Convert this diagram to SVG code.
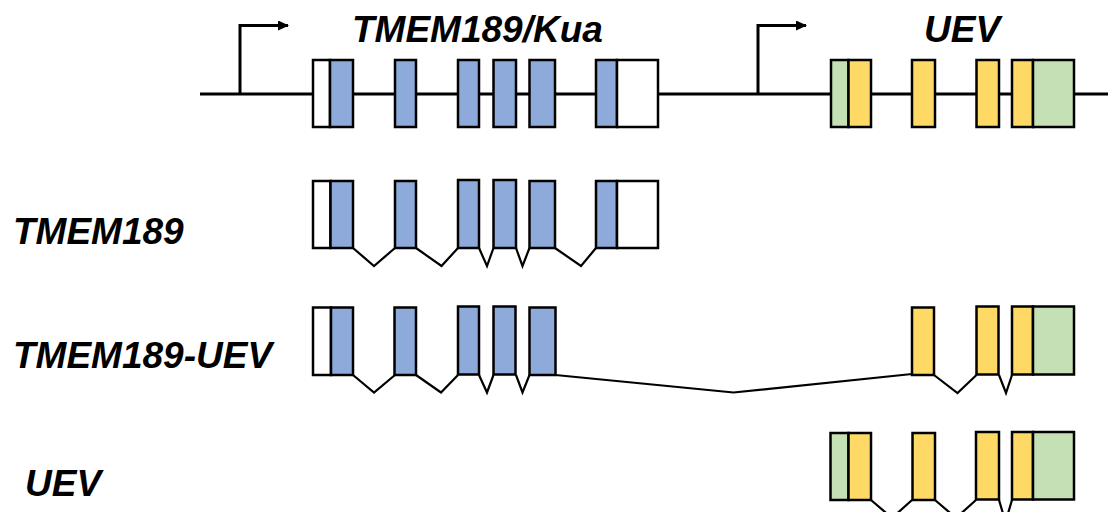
<svg xmlns="http://www.w3.org/2000/svg" width="1108" height="512" viewBox="0 0 1108 512">
  <style>
    .ex { stroke: #000; stroke-width: 2.5; }
    .utr { fill: #ffffff; }
    .cds { fill: #8eaadb; }
    .uev { fill: #ffd966; }
    .uutr { fill: #c5e0b4; }
    .intron { fill: none; stroke: #000; stroke-width: 2.2; stroke-linejoin: miter; }
    .genome { stroke: #000; stroke-width: 3; }
    .tss { fill: none; stroke: #000; stroke-width: 3; }
    .lbl { font-family: "Liberation Sans", Arial, sans-serif; font-weight: bold; font-style: italic; font-size: 37px; fill: #000; }
  </style>
  <defs>
    <marker id="tssHead" markerWidth="12" markerHeight="12" refX="10" refY="5" orient="auto" markerUnits="userSpaceOnUse">
      <path d="M0,0 L11,5 L0,10 Z" fill="#000"/>
    </marker>
  </defs>
  <rect width="1108" height="512" fill="#ffffff"/>

  <!-- genomic locus -->
  <g id="locus">
    <line class="genome" x1="200" y1="94" x2="1108" y2="94"/>
    <path class="tss" d="M240,94 V25.5 H288" marker-end="url(#tssHead)"/>
    <path class="tss" d="M758,94 V25.5 H806" marker-end="url(#tssHead)"/>
    <text class="lbl" x="352" y="42">TMEM189/Kua</text>
    <text class="lbl" x="924" y="42">UEV</text>
    <g id="locus-tmem189">
      <rect class="ex utr" x="313" y="60" width="17" height="67"/>
      <rect class="ex cds" x="330" y="60" width="23" height="67"/>
      <rect class="ex cds" x="395" y="60" width="21" height="67"/>
      <rect class="ex cds" x="458" y="60" width="21" height="67"/>
      <rect class="ex cds" x="493.5" y="60" width="22.5" height="67"/>
      <rect class="ex cds" x="529.5" y="60" width="25.5" height="67"/>
      <rect class="ex cds" x="596" y="60" width="21" height="67"/>
      <rect class="ex utr" x="617" y="60" width="41" height="67"/>
    </g>
    <g id="locus-uev">
      <rect class="ex uutr" x="831" y="60" width="17.5" height="67"/>
      <rect class="ex uev" x="848.5" y="60" width="22.5" height="67"/>
      <rect class="ex uev" x="912" y="60" width="23" height="67"/>
      <rect class="ex uev" x="976.5" y="60" width="22.5" height="67"/>
      <rect class="ex uev" x="1012" y="60" width="21" height="67"/>
      <rect class="ex uutr" x="1033" y="60" width="41" height="67"/>
    </g>
  </g>

  <!-- splice connectors -->
  <g id="connectors">
    <polyline class="intron" points="353,248 374,266 395,248"/>
    <polyline class="intron" points="416,248 441.5,266 458,248"/>
    <polyline class="intron" points="479,248 487,266 493.5,248"/>
    <polyline class="intron" points="516,248 522.5,266 529.5,248"/>
    <polyline class="intron" points="555,248 581,266 596,248"/>

    <polyline class="intron" points="353,375 374,392.5 395,375"/>
    <polyline class="intron" points="416,375 441,392.5 458,375"/>
    <polyline class="intron" points="479,375 487,392.5 493.5,375"/>
    <polyline class="intron" points="516,375 522.5,392.5 529.5,375"/>
    <polyline class="intron" points="555.5,375 733.5,392.5 912,374"/>
    <polyline class="intron" points="934,375 957.5,393 976.5,375"/>
    <polyline class="intron" points="999,375 1006,393 1012,375"/>

    <polyline class="intron" points="871,500 892,518 912,500"/>
    <polyline class="intron" points="935,500 956,518 976,500"/>
    <polyline class="intron" points="999,500 1005.5,522 1012,500"/>
  </g>

  <!-- transcript TMEM189 -->
  <g id="tx-tmem189">
    <text class="lbl" x="13" y="244">TMEM189</text>
    <rect class="ex utr" x="313" y="181" width="17.5" height="67"/>
    <rect class="ex cds" x="330.5" y="181" width="22.5" height="67"/>
    <rect class="ex cds" x="395" y="181" width="21" height="67"/>
    <rect class="ex cds" x="458" y="180" width="21" height="68"/>
    <rect class="ex cds" x="493.5" y="180" width="22.5" height="68"/>
    <rect class="ex cds" x="529.5" y="181" width="25.5" height="67"/>
    <rect class="ex cds" x="596" y="181" width="21" height="67"/>
    <rect class="ex utr" x="617" y="181" width="41" height="67"/>
  </g>

  <!-- transcript TMEM189-UEV -->
  <g id="tx-tmem189-uev">
    <text class="lbl" x="13" y="368">TMEM189-UEV</text>
    <rect class="ex utr" x="313" y="307.5" width="18" height="67.5"/>
    <rect class="ex cds" x="331" y="307.5" width="22" height="67.5"/>
    <rect class="ex cds" x="394.5" y="307.5" width="21.5" height="67.5"/>
    <rect class="ex cds" x="458" y="306.5" width="21" height="68"/>
    <rect class="ex cds" x="493.5" y="306.5" width="22" height="68"/>
    <rect class="ex cds" x="529.5" y="307.5" width="26" height="67.5"/>
    <rect class="ex uev" x="912" y="307.5" width="22" height="67.5"/>
    <rect class="ex uev" x="976.5" y="306.5" width="22" height="68"/>
    <rect class="ex uev" x="1012" y="306.5" width="21" height="68"/>
    <rect class="ex uutr" x="1033" y="306.5" width="41" height="68"/>
  </g>

  <!-- transcript UEV -->
  <g id="tx-uev">
    <text class="lbl" x="25" y="496">UEV</text>
    <rect class="ex uutr" x="830.5" y="433" width="18" height="67"/>
    <rect class="ex uev" x="848.5" y="433" width="22.5" height="67"/>
    <rect class="ex uev" x="912.5" y="433" width="22.5" height="67"/>
    <rect class="ex uev" x="976" y="432" width="23" height="67.5"/>
    <rect class="ex uev" x="1012" y="432" width="21" height="67.5"/>
    <rect class="ex uutr" x="1033" y="432" width="41" height="67.5"/>
  </g>
</svg>
